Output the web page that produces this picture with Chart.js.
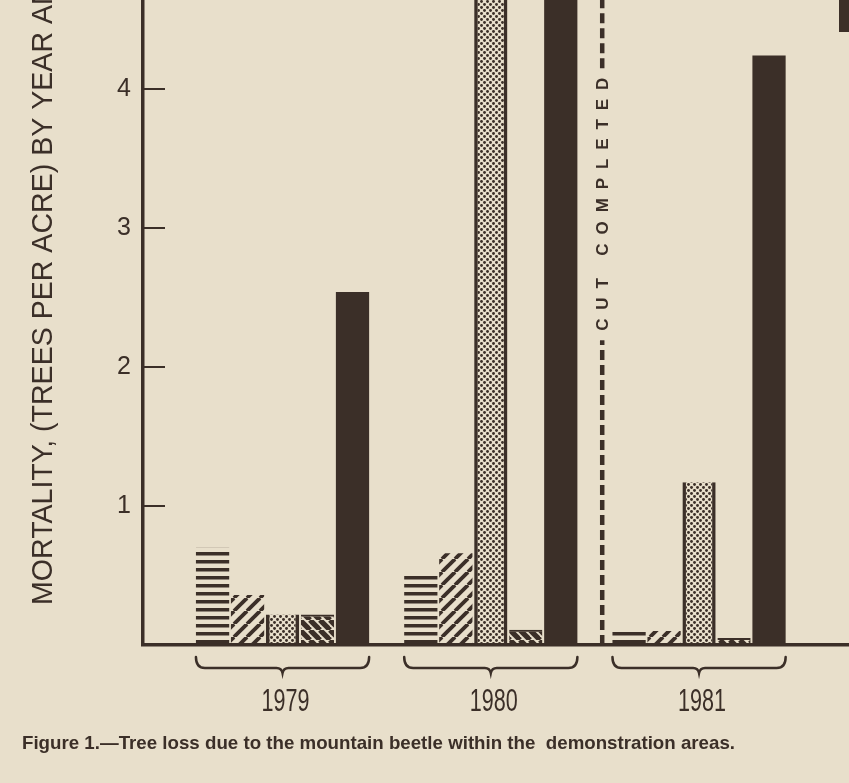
<!DOCTYPE html>
<html><head><meta charset="utf-8">
<script src="https://cdn.jsdelivr.net/npm/chart.js@4.4.1/dist/chart.umd.min.js"></script>
<style>html,body{margin:0;padding:0;background:#e8dfcb;} canvas{display:block;}</style>
</head><body>
<canvas id="c" width="849" height="783"></canvas>
<script>
// ---- data (1980 dotted & solid bars run off the top, estimated) ----
const years = ['1979', '1980', '1981'];
const seriesNames = ['Series 1', 'Series 2', 'Series 3', 'Series 4', 'Series 5'];
const horizStripe = [0.70, 0.51, 0.11];
const diagUp      = [0.36, 0.66, 0.10];
const dotted      = [0.22, 5.30, 1.17];
const diagDown    = [0.22, 0.11, 0.05];
const solid       = [2.54, 5.60, 4.24];
const yTicks = [1, 2, 3, 4];
const yMax = 4.64;
const cutAt = 1.535;        // x position (between 1980 and 1981)
const cutLabelAt = 3.17;    // y value at label centre
const cutLabel = 'CUT COMPLETED';
const yTitle = 'MORTALITY, (TREES PER ACRE) BY YEAR AND AREA';
const caption = 'Figure 1.\u2014Tree loss due to the mountain beetle within the  demonstration areas.';

const INK = '#3b2f28';
const PAPER = '#e8dfcb';
const SANS = '"Liberation Sans", Arial, sans-serif';

function tile(w, h, draw) {
  const c = document.createElement('canvas'); c.width = w; c.height = h;
  const g = c.getContext('2d'); draw(g, w, h);
  return document.getElementById('c').getContext('2d').createPattern(c, 'repeat');
}
const patHoriz = tile(8, 8, (g, w) => { g.fillStyle = INK; g.fillRect(0, 0, w, 3.5); });
const patUp = tile(13, 13, (g, s) => {
  g.strokeStyle = INK; g.lineWidth = 3.8;
  for (let k = -1; k <= 1; k++) { g.beginPath(); g.moveTo(k * s, s); g.lineTo(k * s + s, 0); g.stroke(); }
});
const patDown = tile(10, 10, (g, s) => {
  g.strokeStyle = INK; g.lineWidth = 5.2;
  for (let k = -1; k <= 1; k++) { g.beginPath(); g.moveTo(k * s, 0); g.lineTo(k * s + s, s); g.stroke(); }
});
const patDots = tile(6, 6, (g) => {
  g.fillStyle = INK;
  [[1.5, 1.5], [4.5, 4.5]].forEach(([x, y]) => { g.beginPath(); g.arc(x, y, 1.45, 0, Math.PI * 2); g.fill(); });
});

const toXY = arr => arr.map((v, i) => ({ x: i, y: v }));

function condensedText(ctx, text, x, y, size, weight, targetW, align, baseline) {
  ctx.save();
  ctx.font = (weight ? weight + ' ' : '') + size + 'px ' + SANS;
  const w = ctx.measureText(text).width;
  ctx.translate(x, y); ctx.scale(targetW / w, 1);
  ctx.textAlign = align; ctx.textBaseline = baseline;
  ctx.fillText(text, 0, 0);
  ctx.restore();
}

const decor = {
  id: 'decor',
  beforeDraw(chart) {
    const ctx = chart.ctx; ctx.save(); ctx.fillStyle = PAPER; ctx.fillRect(0, 0, chart.width, chart.height); ctx.restore();
  },
  afterDraw(chart) {
    const { ctx, chartArea: a, scales: { x, y } } = chart;
    ctx.save();
    ctx.strokeStyle = INK; ctx.fillStyle = INK;
    // inward tick marks
    ctx.lineWidth = 2;
    y.ticks.forEach(t => {
      const py = Math.round(y.getPixelForValue(t.value));
      ctx.beginPath(); ctx.moveTo(a.left, py); ctx.lineTo(a.left + 22, py); ctx.stroke();
    });
    // year labels (condensed) at the x-scale tick positions
    x.ticks.forEach(t => {
      const lbl = years[t.value];
      if (lbl) condensedText(ctx, lbl, x.getPixelForValue(t.value) + 3, a.bottom + 66, 32, '', 48, 'center', 'alphabetic');
    });
    // braces under each year group
    const m0 = chart.getDatasetMeta(0), m4 = chart.getDatasetMeta(4);
    ctx.lineWidth = 2.5; ctx.lineCap = 'round';
    years.forEach((_, i) => {
      const b0 = m0.data[i], b4 = m4.data[i];
      const L = b0.x - b0.width / 2, R = b4.x + b4.width / 2, C = (L + R) / 2;
      const top = a.bottom + 12, mid = a.bottom + 23, tip = a.bottom + 28;
      ctx.beginPath();
      ctx.moveTo(L, top);
      ctx.quadraticCurveTo(L, mid, L + 9, mid);
      ctx.lineTo(C - 6, mid);
      ctx.quadraticCurveTo(C - 1, mid, C, tip);
      ctx.quadraticCurveTo(C + 1, mid, C + 6, mid);
      ctx.lineTo(R - 9, mid);
      ctx.quadraticCurveTo(R, mid, R, top);
      ctx.stroke();
    });
    // cut completed line + label
    const px = x.getPixelForValue(cutAt);
    const cy = y.getPixelForValue(cutLabelAt);
    ctx.font = 'bold 17px ' + SANS;
    const w0 = ctx.measureText(cutLabel).width;
    const spacing = (253 - w0) / (cutLabel.length - 1);
    ctx.save();
    ctx.translate(px, cy); ctx.rotate(-Math.PI / 2);
    ctx.letterSpacing = spacing + 'px';
    ctx.textAlign = 'center'; ctx.textBaseline = 'middle';
    ctx.fillText(cutLabel, spacing / 2, 1);
    ctx.restore();
    ctx.lineWidth = 4.5; ctx.lineCap = 'butt'; ctx.setLineDash([10, 5]);
    ctx.beginPath(); ctx.moveTo(px, a.bottom); ctx.lineTo(px, cy + 127 + 9); ctx.stroke();
    ctx.beginPath(); ctx.moveTo(px, cy - 127 - 9); ctx.lineTo(px, a.top); ctx.stroke();
    ctx.setLineDash([]);
    // y axis title (runs off the top, as in the original)
    ctx.save();
    ctx.font = '29px ' + SANS;
    const wA = ctx.measureText('MORTALITY, (TREES PER ACRE) BY YEAR A').width;
    ctx.translate(44, a.bottom - 40); ctx.rotate(-Math.PI / 2); ctx.scale(600 / wA, 1);
    ctx.textAlign = 'left'; ctx.textBaseline = 'middle';
    ctx.fillText(yTitle, 0, 0);
    ctx.restore();
    // legend swatch peeking in at the top right
    ctx.fillRect(chart.width - 10, 0, 10, 32);
    // caption
    condensedText(ctx, caption, 22, 749, 18.5, 'bold', 713, 'left', 'alphabetic');
    ctx.restore();
  }
};

new Chart(document.getElementById('c'), {
  type: 'bar',
  data: {
    datasets: [
      { label: seriesNames[0], data: toXY(horizStripe), backgroundColor: patHoriz, borderWidth: 0 },
      { label: seriesNames[1], data: toXY(diagUp), backgroundColor: patUp, borderWidth: 0 },
      { label: seriesNames[2], data: toXY(dotted), backgroundColor: patDots, borderColor: INK, borderWidth: { left: 3.5, right: 3.5, top: 0, bottom: 0 } },
      { label: seriesNames[3], data: toXY(diagDown), backgroundColor: patDown, borderColor: INK, borderWidth: { left: 0, right: 0, top: 2, bottom: 0 } },
      { label: seriesNames[4], data: toXY(solid), backgroundColor: INK, borderWidth: 0 }
    ]
  },
  options: {
    responsive: false,
    devicePixelRatio: 1,
    animation: false,
    layout: { padding: 0 },
    categoryPercentage: 0.84,
    barPercentage: 0.95,
    plugins: { legend: { display: false }, tooltip: { enabled: false }, title: { display: false } },
    scales: {
      x: {
        type: 'linear', min: -0.67, max: 2.72, offset: false,
        grid: { display: false, drawTicks: false },
        border: { display: true, color: INK, width: 3.5 },
        afterBuildTicks: s => { s.ticks = years.map((_, i) => ({ value: i })); },
        ticks: { display: false },
        afterFit: s => { s.height = 138; s.paddingLeft = 0; s.paddingRight = 0; }
      },
      y: {
        min: 0, max: yMax,
        grid: { display: false, drawTicks: false },
        border: { display: true, color: INK, width: 3.5 },
        afterBuildTicks: s => { s.ticks = yTicks.map(v => ({ value: v })); },
        ticks: { color: INK, font: { family: SANS, size: 25 }, padding: 12 },
        afterFit: s => { s.width = 143; s.paddingTop = 0; s.paddingBottom = 0; }
      }
    }
  },
  plugins: [decor]
});
</script>
</body></html>
